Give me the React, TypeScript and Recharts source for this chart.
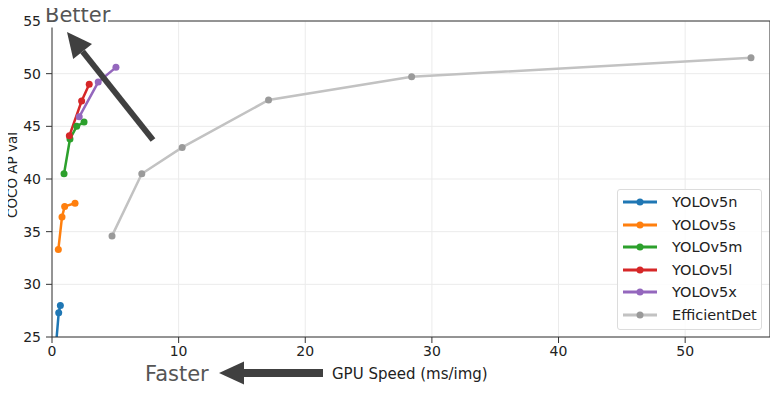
import {
  LineChart,
  Line,
  XAxis,
  YAxis,
  CartesianGrid,
  ReferenceLine,
  Legend
} from "recharts";

// GPU speed (ms/img) and COCO AP val
const yolov5nSpeed = [0.3, 0.53, 0.66];
const yolov5nAP = [24.0, 27.3, 28.0];
const yolov5sSpeed = [0.5, 0.79, 1.0, 1.82];
const yolov5sAP = [33.3, 36.4, 37.4, 37.7];
const yolov5mSpeed = [0.95, 1.42, 1.95, 2.53];
const yolov5mAP = [40.5, 43.8, 45.0, 45.4];
const yolov5lSpeed = [1.37, 2.34, 2.94];
const yolov5lAP = [44.1, 47.4, 49.0];
const yolov5xSpeed = [2.15, 3.65, 5.05];
const yolov5xAP = [45.9, 49.2, 50.6];
const effdetSpeed = [4.74, 7.09, 10.28, 17.1, 28.4, 55.2];
const effdetAP = [34.6, 40.5, 43.0, 47.5, 49.7, 51.5];

const xTicks = [0, 10, 20, 30, 40, 50];
const yTicks = [25, 30, 35, 40, 45, 50, 55];
const xMax = 56.7;

const toPoints = (speed: number[], ap: number[]) =>
  speed.map((s, i) => ({ speed: s, ap: ap[i] }));

const series = [
  { name: "YOLOv5n", data: toPoints(yolov5nSpeed, yolov5nAP), line: "#1f77b4", dot: "#1f77b4" },
  { name: "YOLOv5s", data: toPoints(yolov5sSpeed, yolov5sAP), line: "#ff7f0e", dot: "#ff7f0e" },
  { name: "YOLOv5m", data: toPoints(yolov5mSpeed, yolov5mAP), line: "#2ca02c", dot: "#2ca02c" },
  { name: "YOLOv5l", data: toPoints(yolov5lSpeed, yolov5lAP), line: "#d62728", dot: "#d62728" },
  { name: "YOLOv5x", data: toPoints(yolov5xSpeed, yolov5xAP), line: "#9467bd", dot: "#9467bd" },
  { name: "EfficientDet", data: toPoints(effdetSpeed, effdetAP), line: "#c2c2c2", dot: "#9a9a9a" }
];

const font = "'DejaVu Sans', sans-serif";

function LegendBox() {
  return (
    <div
      style={{
        width: 143,
        height: 138,
        border: "1px solid #dcdcdc",
        borderRadius: 3,
        background: "rgba(255,255,255,0.85)",
        paddingTop: 1,
        boxSizing: "content-box",
        fontFamily: font
      }}
    >
      {series.map((s) => (
        <div key={s.name} style={{ display: "flex", alignItems: "center", height: 22.5 }}>
          <svg width={50} height={12} style={{ marginLeft: 4 }}>
            <line x1={1} y1={6} x2={35} y2={6} stroke={s.line} strokeWidth={3} />
            <circle cx={18} cy={6} r={3.5} fill={s.dot} />
          </svg>
          <span style={{ fontSize: 14.5, color: "#222", lineHeight: "22px" }}>{s.name}</span>
        </div>
      ))}
    </div>
  );
}

export default function App() {
  return (
    <div style={{ position: "relative", width: 778, height: 397, margin: -8, background: "#fff", fontFamily: font }}>
      <LineChart width={778} height={397} margin={{ top: 21, right: 8, bottom: 30, left: 0 }}>
        <CartesianGrid stroke="#ebebeb" />
        <XAxis
          type="number"
          dataKey="speed"
          domain={[0, xMax]}
          ticks={xTicks}
          allowDataOverflow
          height={30}
          tickSize={6}
          tickMargin={3}
          axisLine={{ stroke: "#333" }}
          tickLine={{ stroke: "#333" }}
          tick={{ fill: "#222", fontSize: 14, fontFamily: font }}
        />
        <YAxis
          type="number"
          dataKey="ap"
          domain={[25, 55]}
          ticks={yTicks}
          allowDataOverflow
          width={52}
          tickSize={6}
          tickMargin={5}
          axisLine={{ stroke: "#333" }}
          tickLine={{ stroke: "#333" }}
          tick={{ fill: "#222", fontSize: 14, fontFamily: font }}
        />
        <ReferenceLine y={55} stroke="#333" />
        <ReferenceLine x={xMax} stroke="#333" />
        {series.map((s) => (
          <Line
            key={s.name}
            name={s.name}
            data={s.data}
            dataKey="ap"
            type="linear"
            stroke={s.line}
            strokeWidth={2.5}
            dot={{ r: 3.5, fill: s.dot, stroke: s.dot, strokeWidth: 0 }}
            activeDot={false}
            isAnimationActive={false}
          />
        ))}
        <Legend
          layout="vertical"
          align="center"
          verticalAlign="middle"
          wrapperStyle={{ left: 617, top: 189, right: "auto", bottom: "auto", width: 145 }}
          content={() => <LegendBox />}
        />
      </LineChart>

      <svg
        width={778}
        height={397}
        style={{ position: "absolute", left: 0, top: 0, pointerEvents: "none" }}
      >
        {/* "Better" label sits on top of the frame corner */}
        <rect x={46} y={0} width={62} height={27.5} fill="#fff" />
        <text x={45} y={21.5} fontSize={21} fill="#555" fontFamily={font}>Better</text>
        <line x1={153} y1={140} x2={82.6} y2={51.5} stroke="#404040" strokeWidth={6} />
        <polygon points="67,32 92,44 73.2,59" fill="#404040" />

        <text x={145} y={381} fontSize={21} fill="#555" fontFamily={font}>Faster</text>
        <line x1={243} y1={373} x2={323} y2={373} stroke="#404040" strokeWidth={8} />
        <polygon points="219,373 244,361.5 244,384.5" fill="#404040" />
        <text x={332} y={379} fontSize={15} fill="#222" fontFamily={font}>GPU Speed (ms/img)</text>

        <text
          x={12}
          y={175}
          fontSize={13.5}
          fill="#222"
          fontFamily={font}
          textAnchor="middle"
          dominantBaseline="central"
          transform="rotate(-90, 12, 175)"
        >
          COCO AP val
        </text>
      </svg>
    </div>
  );
}
